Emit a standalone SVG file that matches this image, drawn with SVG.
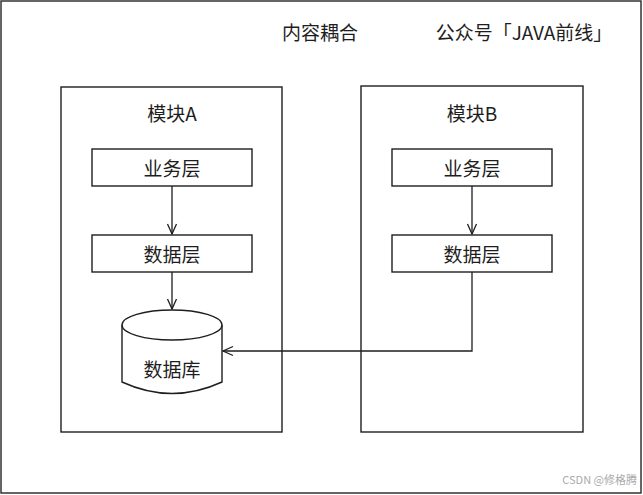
<svg xmlns="http://www.w3.org/2000/svg" width="643" height="495" viewBox="0 0 643 495">
<defs>
<style>
.t{font-family:"Noto Sans CJK SC","Noto Sans",sans-serif;font-size:19px;fill:#1e1e1e;text-anchor:middle;dominant-baseline:central}
.s{fill:#fff;stroke:#1e1e1e;stroke-width:1.4}
.c{fill:none;stroke:#1e1e1e;stroke-width:1.3}
</style>
<marker id="ah" viewBox="0 0 12 12" refX="11" refY="6" markerWidth="12" markerHeight="12" markerUnits="userSpaceOnUse" orient="auto">
<path d="M1,1.5 L11,6 L1,10.5" fill="none" stroke="#1e1e1e" stroke-width="1.3"/>
</marker>
</defs>
<rect x="0" y="0" width="643" height="495" fill="#fff"/>
<rect x="1" y="1" width="640" height="492" fill="none" stroke="#333" stroke-width="1.5"/>
<g id="title">
<text class="t" x="320" y="31">内容耦合</text>
<text class="t" x="524" y="31">公众号「JAVA前线」</text>
</g>
<g id="moduleA">
<rect class="s" x="61" y="87" width="221" height="345"/>
<text class="t" x="172" y="112">模块A</text>
</g>
<g id="moduleB">
<rect class="s" x="361" y="86" width="222" height="346"/>
<text class="t" x="472" y="112">模块B</text>
</g>
<g id="bizA">
<rect class="s" x="92" y="149" width="160" height="37"/>
<text class="t" x="172" y="167">业务层</text>
</g>
<g id="dataA">
<rect class="s" x="92" y="235" width="160" height="37"/>
<text class="t" x="172" y="253">数据层</text>
</g>
<g id="db">
<path class="s" d="M122,325 A50,15 0 0 1 222,325 L222,382 Q172,405 122,382 Z"/>
<path class="c" d="M122,325 A50,15 0 0 0 222,325"/>
<text class="t" x="172" y="368">数据库</text>
</g>
<g id="bizB">
<rect class="s" x="392" y="149" width="160" height="37"/>
<text class="t" x="472" y="167">业务层</text>
</g>
<g id="dataB">
<rect class="s" x="392" y="235" width="160" height="37"/>
<text class="t" x="472" y="253">数据层</text>
</g>
<g id="connectors">
<path class="c" d="M172,186 L172,234" marker-end="url(#ah)"/>
<path class="c" d="M172,272 L172,309" marker-end="url(#ah)"/>
<path class="c" d="M472,186 L472,234" marker-end="url(#ah)"/>
<path class="c" d="M472,272 L472,351 L223,351" marker-end="url(#ah)"/>
</g>
<text x="637" y="484" style="font-family:'Noto Sans CJK SC',sans-serif;font-size:11px;fill:#aaa;text-anchor:end">CSDN @修格腾</text>
</svg>
